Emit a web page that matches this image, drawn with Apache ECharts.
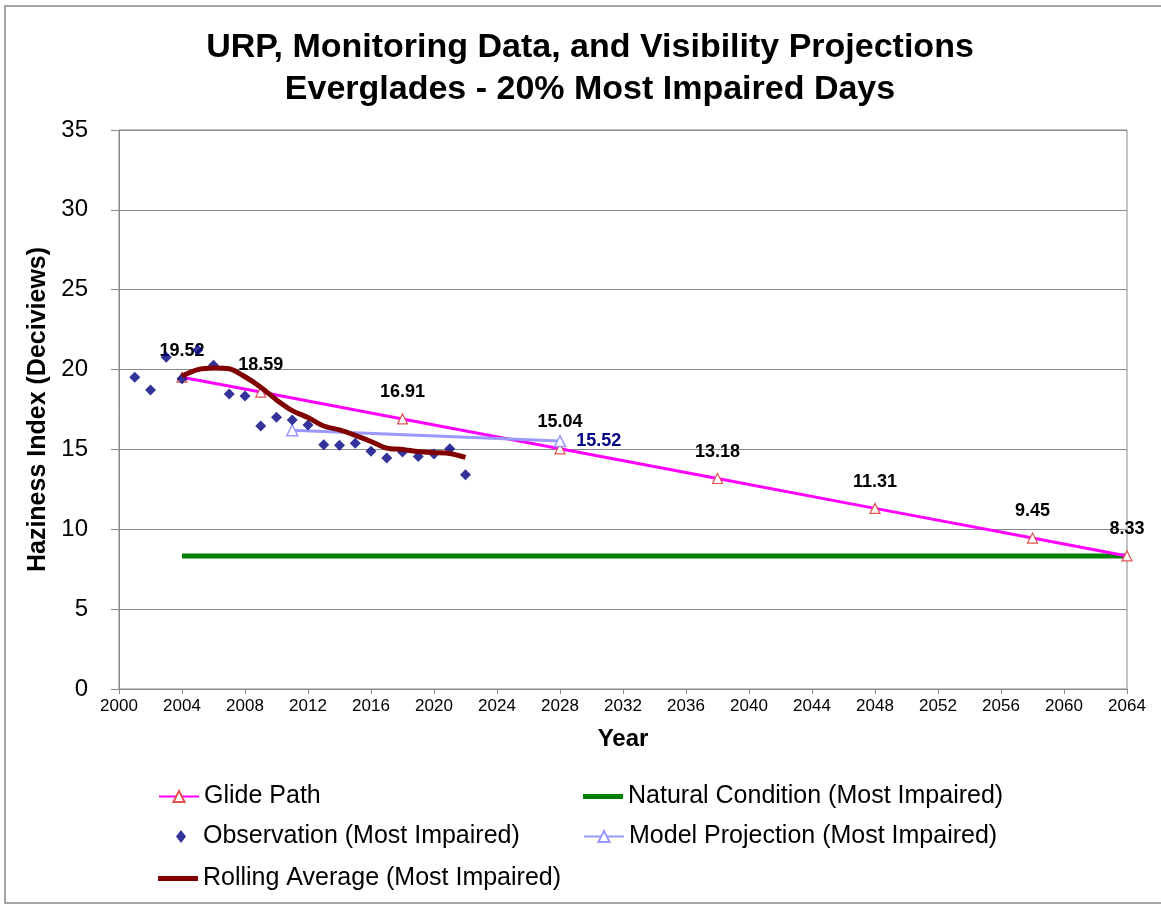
<!DOCTYPE html>
<html><head><meta charset="utf-8">
<script src="https://cdn.jsdelivr.net/npm/echarts@6/dist/echarts.min.js"></script>
<style>html,body{margin:0;padding:0;background:#fff}#c{width:1161px;height:907px}</style>
</head><body><div id="c"></div>
<script>
const glideYears = [2004, 2009, 2018, 2028, 2038, 2048, 2058, 2064];
const glideValues = [19.52, 18.59, 16.91, 15.04, 13.18, 11.31, 9.45, 8.33];
const naturalYears = [2004, 2064];
const naturalValues = [8.33, 8.33];
const obsYears = [2001,2002,2003,2004,2005,2006,2007,2008,2009,2010,2011,2012,2013,2014,2015,2016,2017,2018,2019,2020,2021,2022];
const obsValues = [19.52,18.72,20.77,19.43,21.23,20.27,18.47,18.35,16.47,17.01,16.84,16.53,15.30,15.26,15.39,14.88,14.46,14.84,14.55,14.72,15.05,13.42];
const rollYears = [2004,2005,2006,2007,2008,2009,2010,2011,2012,2013,2014,2015,2016,2017,2018,2019,2020,2021,2022];
const rollValues = [19.6,20.0,20.1,20.05,19.55,18.9,18.1,17.43,17.0,16.47,16.22,15.88,15.5,15.08,15.0,14.87,14.8,14.75,14.5];
const modelYears = [2011, 2028];
const modelValues = [16.2, 15.52];
const xTicks = {min: 2000, max: 2064, step: 4};
const yTicks = {min: 0, max: 35, step: 5};

const pairs = (xs, ys) => xs.map((x, i) => [x, ys[i]]);
const F = 'Liberation Sans, Arial, sans-serif';
const chart = echarts.init(document.getElementById('c'));
const legendText = {fontFamily: F, fontSize: 25, color: '#000'};
function lg(item, left, top, extra) {
  return Object.assign({data: [item], left, top, itemWidth: 40, itemHeight: 14, itemGap: 0,
    textStyle: legendText, padding: 0}, extra || {});
}
chart.setOption({
  animation: false,
  backgroundColor: '#fff',
  graphic: [{type: 'rect', shape: {x: 5, y: 6, width: 1170, height: 897}, style: {fill: 'none', stroke: '#888', lineWidth: 1.5}, silent: true}],
  title: {
    text: 'URP, Monitoring Data, and Visibility Projections\nEverglades - 20% Most Impaired Days',
    left: 585, top: 22, textAlign: 'center',
    textStyle: {fontFamily: F, fontSize: 34, fontWeight: 'bold', color: '#000', lineHeight: 42}
  },
  legend: [
    lg('Glide Path', 158, 784),
    lg({name: 'Natural Condition (Most Impaired)', icon: 'rect'}, 583, 784, {itemHeight: 5}),
    lg({name: 'Observation (Most Impaired)', icon: 'diamond'}, 176, 824,
       {itemWidth: 10, itemHeight: 13, textStyle: Object.assign({}, legendText, {padding: [0, 0, 0, 12]})}),
    lg('Model Projection (Most Impaired)', 583, 824),
    lg({name: 'Rolling Average (Most Impaired)', icon: 'rect'}, 158, 866, {itemHeight: 5})
  ],
  grid: {left: 119, top: 130, right: 34, bottom: 218, show: true, borderColor: '#888', borderWidth: 1, containLabel: false},
  xAxis: {
    type: 'value', min: xTicks.min, max: xTicks.max, interval: xTicks.step,
    name: 'Year', nameLocation: 'middle', nameGap: 38,
    nameTextStyle: {fontFamily: F, fontSize: 24, fontWeight: 'bold', color: '#000'},
    axisLine: {show: true, lineStyle: {color: '#888'}},
    axisTick: {show: true, length: 5, lineStyle: {color: '#888'}},
    axisLabel: {fontFamily: F, fontSize: 17, color: '#000', margin: 9, formatter: v => String(v)},
    splitLine: {show: false}
  },
  yAxis: {
    type: 'value', min: yTicks.min, max: yTicks.max, interval: yTicks.step,
    name: 'Haziness Index (Deciviews)', nameLocation: 'middle', nameGap: 62,
    nameTextStyle: {fontFamily: F, fontSize: 25, fontWeight: 'bold', color: '#000'},
    axisLine: {show: true, lineStyle: {color: '#888'}},
    axisTick: {show: true, length: 8, lineStyle: {color: '#888'}},
    axisLabel: {fontFamily: F, fontSize: 24, color: '#000', margin: 31},
    splitLine: {show: true, lineStyle: {color: '#888', width: 1}}
  },
  series: [
    {
      name: 'Natural Condition (Most Impaired)', type: 'line', data: pairs(naturalYears, naturalValues),
      symbol: 'none', z: 2,
      lineStyle: {color: '#008000', width: 5}, itemStyle: {color: '#008000'}
    },
    {
      name: 'Glide Path', type: 'line', data: pairs(glideYears, glideValues),
      symbol: 'triangle', symbolSize: 10, z: 3,
      lineStyle: {color: '#ff00ff', width: 3},
      itemStyle: {color: '#fff', borderColor: '#e05050', borderWidth: 1.2},
      label: {show: true, position: 'top', distance: 12, fontFamily: F, fontSize: 18, fontWeight: 'bold', color: '#000', formatter: p => p.value[1].toFixed(2)}
    },
    {
      name: 'Model Projection (Most Impaired)', type: 'line', data: pairs(modelYears, modelValues),
      symbol: 'triangle', symbolSize: 11, z: 4,
      lineStyle: {color: '#9999ff', width: 3},
      itemStyle: {color: '#fff', borderColor: '#9999ff', borderWidth: 1.5},
      label: {show: true, position: 'right', distance: 10, fontFamily: F, fontSize: 18, fontWeight: 'bold', color: '#000080',
        formatter: p => p.dataIndex === modelYears.length - 1 ? p.value[1].toFixed(2) : ''}
    },
    {
      name: 'Observation (Most Impaired)', type: 'scatter', data: pairs(obsYears, obsValues),
      symbol: 'diamond', symbolSize: 11, z: 5,
      itemStyle: {color: '#000080'}
    },
    {
      name: 'Rolling Average (Most Impaired)', type: 'line', data: pairs(rollYears, rollValues),
      symbol: 'none', smooth: 0.3, z: 6,
      lineStyle: {color: '#800000', width: 5}, itemStyle: {color: '#800000'}
    }
  ]
});
</script></body></html>
